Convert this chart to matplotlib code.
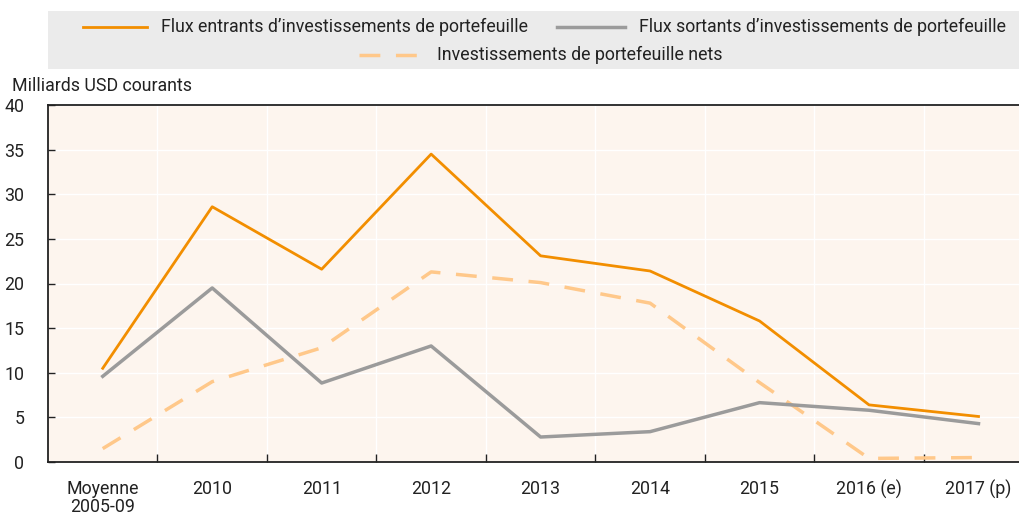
import matplotlib
matplotlib.use('Agg')
import matplotlib.pyplot as plt
from matplotlib.lines import Line2D
from matplotlib.patches import Rectangle

plt.rcParams['font.family'] = ['Roboto', 'DejaVu Sans']

categories = ['Moyenne\n2005-09', '2010', '2011', '2012', '2013', '2014',
              '2015', '2016 (e)', '2017 (p)']
inflows = [10.5, 28.6, 21.6, 34.5, 23.1, 21.4, 15.8, 6.4, 5.1]
outflows = [9.6, 19.5, 8.85, 13.0, 2.8, 3.4, 6.65, 5.8, 4.3]
net = [1.5, 9.0, 12.8, 21.3, 20.1, 17.8, 8.9, 0.4, 0.5]

labels = ["Flux entrants d\u2019investissements de portefeuille",
          "Flux sortants d\u2019investissements de portefeuille",
          "Investissements de portefeuille nets"]

c_in = '#F28E00'
c_out = '#9B9B9B'
c_net = '#FFC88A'
W, H = 1019, 515
fs = 12.8

fig = plt.figure(figsize=(W / 100, H / 100), dpi=100)
ax = fig.add_axes([48 / W, 1 - 462 / H, (1019 - 48) / W, (462 - 105) / H])
ax.set_facecolor('#FDF5EE')

x = list(range(len(categories)))
ax.plot(x, net, color=c_net, lw=2.5, dashes=(6, 4.5), zorder=3)
ax.plot(x, outflows, color=c_out, lw=2.5, zorder=4)
ax.plot(x, inflows, color=c_in, lw=2, zorder=5)

ax.set_xlim(-0.5, 8.37)
ax.set_ylim(0, 40)
ax.set_yticks(range(0, 41, 5))
ax.set_xticks(x)
ax.set_xticklabels(categories, fontsize=fs, color='#222222', linespacing=1.0)
ax.set_xticks([i + 0.5 for i in range(8)], minor=True)
ax.tick_params(axis='x', which='major', length=0, pad=13)
ax.tick_params(axis='x', which='minor', direction='in', length=6, width=1, color='#222222')
ax.tick_params(axis='y', direction='in', length=5, width=1, color='#222222',
               labelsize=fs, labelcolor='#222222', pad=17)
for lab in ax.get_yticklabels():
    lab.set_horizontalalignment('right')

ax.grid(True, axis='y', color='white', lw=1)
ax.grid(True, axis='x', which='minor', color='white', lw=1)
ax.set_axisbelow(True)
for s in ['left', 'bottom', 'top']:
    ax.spines[s].set_color('#222222')
    ax.spines[s].set_linewidth(1.3)
ax.spines['right'].set_visible(False)

fig.text(12 / W, 1 - 86 / H, 'Milliards USD courants', fontsize=fs,
         color='#222222', va='center', ha='left')

# legend box
fig.patches.append(Rectangle((48 / W, 1 - 69 / H), (1019 - 48) / W, 58 / H,
                             transform=fig.transFigure, facecolor='#EBEBEB',
                             edgecolor='none', zorder=0))
legend_items = [
    (83, 147, 27, c_in, 2, None, labels[0]),
    (557, 625, 27, c_out, 2.5, None, labels[1]),
    (359, 423, 55, c_net, 2.5, (6, 4.5), labels[2]),
]
for x0, x1, yy, col, lw, dash, txt in legend_items:
    ln = Line2D([x0 / W, x1 / W], [1 - yy / H, 1 - yy / H], transform=fig.transFigure,
                color=col, lw=lw)
    if dash:
        ln.set_dashes(dash)
    fig.lines.append(ln)
    fig.text((x1 + 14) / W, 1 - yy / H, txt, fontsize=fs, color='#222222',
             va='center', ha='left')

fig.savefig('out.png', dpi=100)
